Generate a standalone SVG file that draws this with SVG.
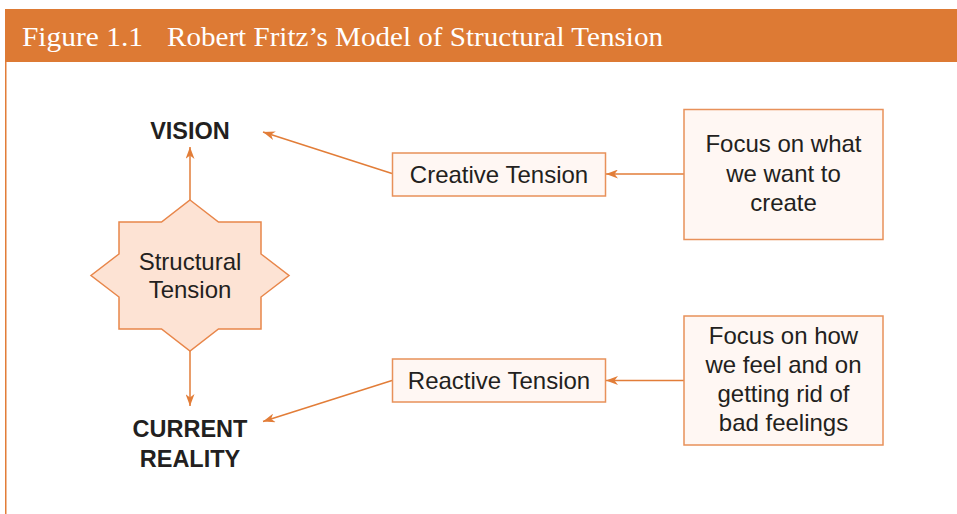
<svg xmlns="http://www.w3.org/2000/svg" width="957" height="514" viewBox="0 0 957 514">
<style>
.hdr{font-family:"Liberation Serif","Times New Roman",serif;font-size:27px;fill:#ffffff}
.t{font-family:"Liberation Sans",Arial,sans-serif;font-size:24px;fill:#231f20;text-anchor:middle}
.b{font-family:"Liberation Sans",Arial,sans-serif;font-size:23.5px;font-weight:bold;fill:#231f20;text-anchor:middle}
.box{fill:#fff7f3;stroke:#e8915a;stroke-width:1.5}
.star{fill:#fde3d4;stroke:#e8864a;stroke-width:1.5}
.c{stroke:#e27d38;stroke-width:1.5;fill:none;marker-end:url(#ah)}
</style>
<defs>
<marker id="ah" markerUnits="userSpaceOnUse" markerWidth="12" markerHeight="9" viewBox="0 0 12 9" refX="12" refY="4.5" orient="auto">
<path d="M0,0 L12,4.5 L0,9 L3.5,4.5 z" fill="#e27d38"/>
</marker>
</defs>
<rect width="957" height="514" fill="#ffffff"/>
<g id="header">
<rect x="5" y="9" width="952" height="53" fill="#dd7a34"/>
<line x1="5.75" y1="62" x2="5.75" y2="514" stroke="#e27d38" stroke-width="1.5"/>
<text class="hdr" x="22" y="46" textLength="121" lengthAdjust="spacingAndGlyphs">Figure 1.1</text>
<text class="hdr" x="167" y="46" textLength="496" lengthAdjust="spacingAndGlyphs">Robert Fritz’s Model of Structural Tension</text>
</g>
<g id="connectors">
<line class="c" x1="190" y1="200" x2="190" y2="147"/>
<line class="c" x1="190" y1="351" x2="190" y2="406"/>
<line class="c" x1="392" y1="173.5" x2="263" y2="132"/>
<line class="c" x1="392" y1="380.5" x2="263" y2="421.5"/>
<line class="c" x1="684" y1="174" x2="606" y2="174"/>
<line class="c" x1="684" y1="380.5" x2="606" y2="380.5"/>
</g>
<g id="vision">
<text class="b" x="190" y="139">VISION</text>
</g>
<g id="current-reality">
<text class="b" x="190" y="437">CURRENT</text>
<text class="b" x="190" y="467">REALITY</text>
</g>
<g id="structural-tension">
<polygon class="star" points="190,200 218.5,222 261,222 261,254 289,275.5 261,297 261,329 218.5,329 190,351 161.5,329 119,329 119,297 91,275.5 119,254 119,222 161.5,222"/>
<text class="t" x="190" y="270">Structural</text>
<text class="t" x="190" y="298">Tension</text>
</g>
<g id="creative-tension">
<rect class="box" x="392.5" y="153" width="213" height="43"/>
<text class="t" x="499" y="182.5">Creative Tension</text>
</g>
<g id="reactive-tension">
<rect class="box" x="392.5" y="359" width="213" height="43"/>
<text class="t" x="499" y="388.5">Reactive Tension</text>
</g>
<g id="focus-want">
<rect class="box" x="684" y="109.5" width="199" height="130"/>
<text class="t" x="783.5" y="152">Focus on what</text>
<text class="t" x="783.5" y="182">we want to</text>
<text class="t" x="783.5" y="211">create</text>
</g>
<g id="focus-feel">
<rect class="box" x="684" y="316" width="199" height="129"/>
<text class="t" x="783.5" y="344">Focus on how</text>
<text class="t" x="783.5" y="373">we feel and on</text>
<text class="t" x="783.5" y="402">getting rid of</text>
<text class="t" x="783.5" y="431">bad feelings</text>
</g>
</svg>
